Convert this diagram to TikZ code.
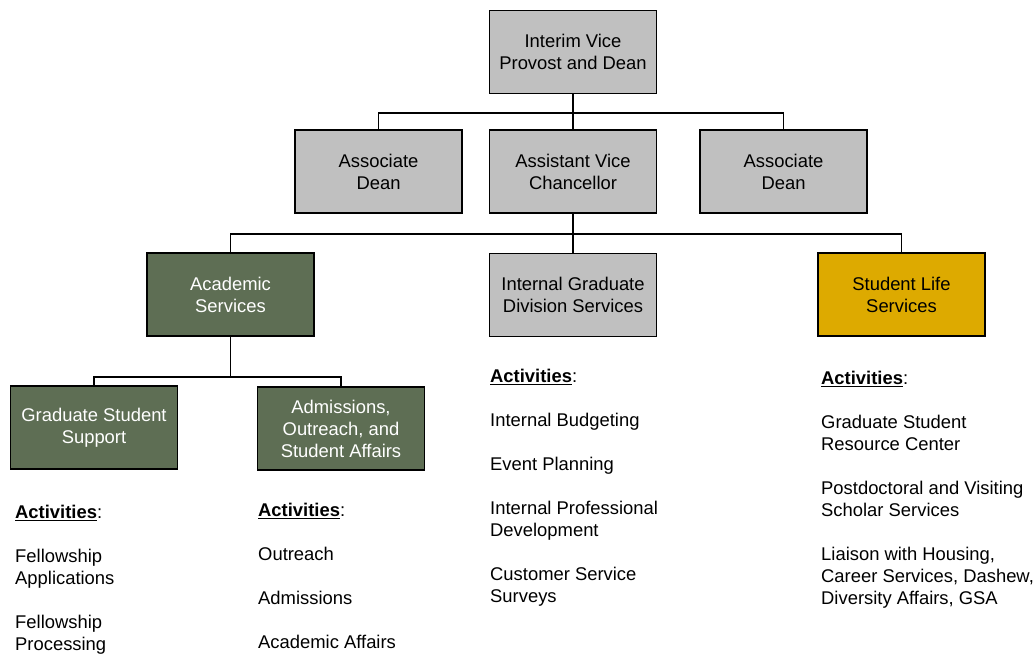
\documentclass[tikz,border=0pt]{standalone}
\usepackage{fontspec}
\setmainfont{Liberation Sans}
\usetikzlibrary{positioning}

\definecolor{boxgray}{RGB}{192,192,192}
\definecolor{boxgreen}{RGB}{94,110,84}
\definecolor{boxgold}{RGB}{221,170,0}

\begin{document}
\begin{tikzpicture}[x=1pt,y=-1pt,font=\fontsize{18.4}{22}\selectfont]
  \tikzset{unit/.style={rectangle,draw=black,line width=1.3pt,minimum width=167pt,
        minimum height=83pt,align=center,inner sep=2pt}}
  \tikzset{grayunit/.style={unit,fill=boxgray}}
  \tikzset{greenunit/.style={unit,fill=boxgreen,text=white}}
  \tikzset{goldunit/.style={unit,fill=boxgold}}
  \tikzset{activities/.style={align=left,anchor=north west,inner sep=0pt}}
  \tikzset{link/.style={line width=1.3pt}}
  \useasboundingbox (0,0) rectangle (1035,654);
    % top level
    \node [grayunit] (dean) at (573,52) {Interim Vice\\Provost and Dean};
    \node [grayunit] (avc) at (573,171.5) {Assistant Vice\\Chancellor};
    \node [grayunit] (assocl) at (378.5,171.5) {Associate\\Dean};
    \node [grayunit] (assocr) at (783.5,171.5) {Associate\\Dean};
    % units
    \node [greenunit] (acad) at (230.5,294.5) {Academic\\Services};
    \node [grayunit] (igds) at (573,295) {Internal Graduate\\Division Services};
    \node [goldunit] (life) at (901.5,294.5) {Student Life\\Services};
    \node [greenunit] (gss) at (94,427.5) {Graduate Student\\Support};
    \node [greenunit] (aosa) at (341,428.5) {Admissions,\\Outreach, and\\Student Affairs};
    % connectors
    \coordinate (j1) at (573,113);
    \coordinate (j2) at (573,234);
    \coordinate (j3) at (230.5,377);
    \draw [link] (dean.south) -- (j1) -- (avc.north);
    \draw [link] (assocl.north) |- (j1) -| (assocr.north);
    \draw [link] (avc.south) -- (j2) -- (igds.north);
    \draw [link] (acad.north) |- (j2) -| (life.north);
    \draw [link] (acad.south) -- (j3);
    \draw [link] (gss.north) |- (j3) -| (aosa.north);
    % activities
    \node [activities] (gssact) at (15,505)
      {\underline{\textbf{Activities}}:\\[22pt]Fellowship\\Applications\\[22pt]Fellowship\\Processing};
    \node [activities] (aosaact) at (258,503)
      {\underline{\textbf{Activities}}:\\[22pt]Outreach\\[22pt]Admissions\\[22pt]Academic Affairs};
    \node [activities] (igdsact) at (490,369)
      {\underline{\textbf{Activities}}:\\[22pt]Internal Budgeting\\[22pt]Event Planning\\[22pt]Internal Professional\\Development\\[22pt]Customer Service\\Surveys};
    \node [activities] (lifeact) at (821,371)
      {\underline{\textbf{Activities}}:\\[22pt]Graduate Student\\Resource Center\\[22pt]Postdoctoral and Visiting\\Scholar Services\\[22pt]Liaison with Housing,\\Career Services, Dashew,\\Diversity Affairs, GSA};
\end{tikzpicture}
\end{document}
